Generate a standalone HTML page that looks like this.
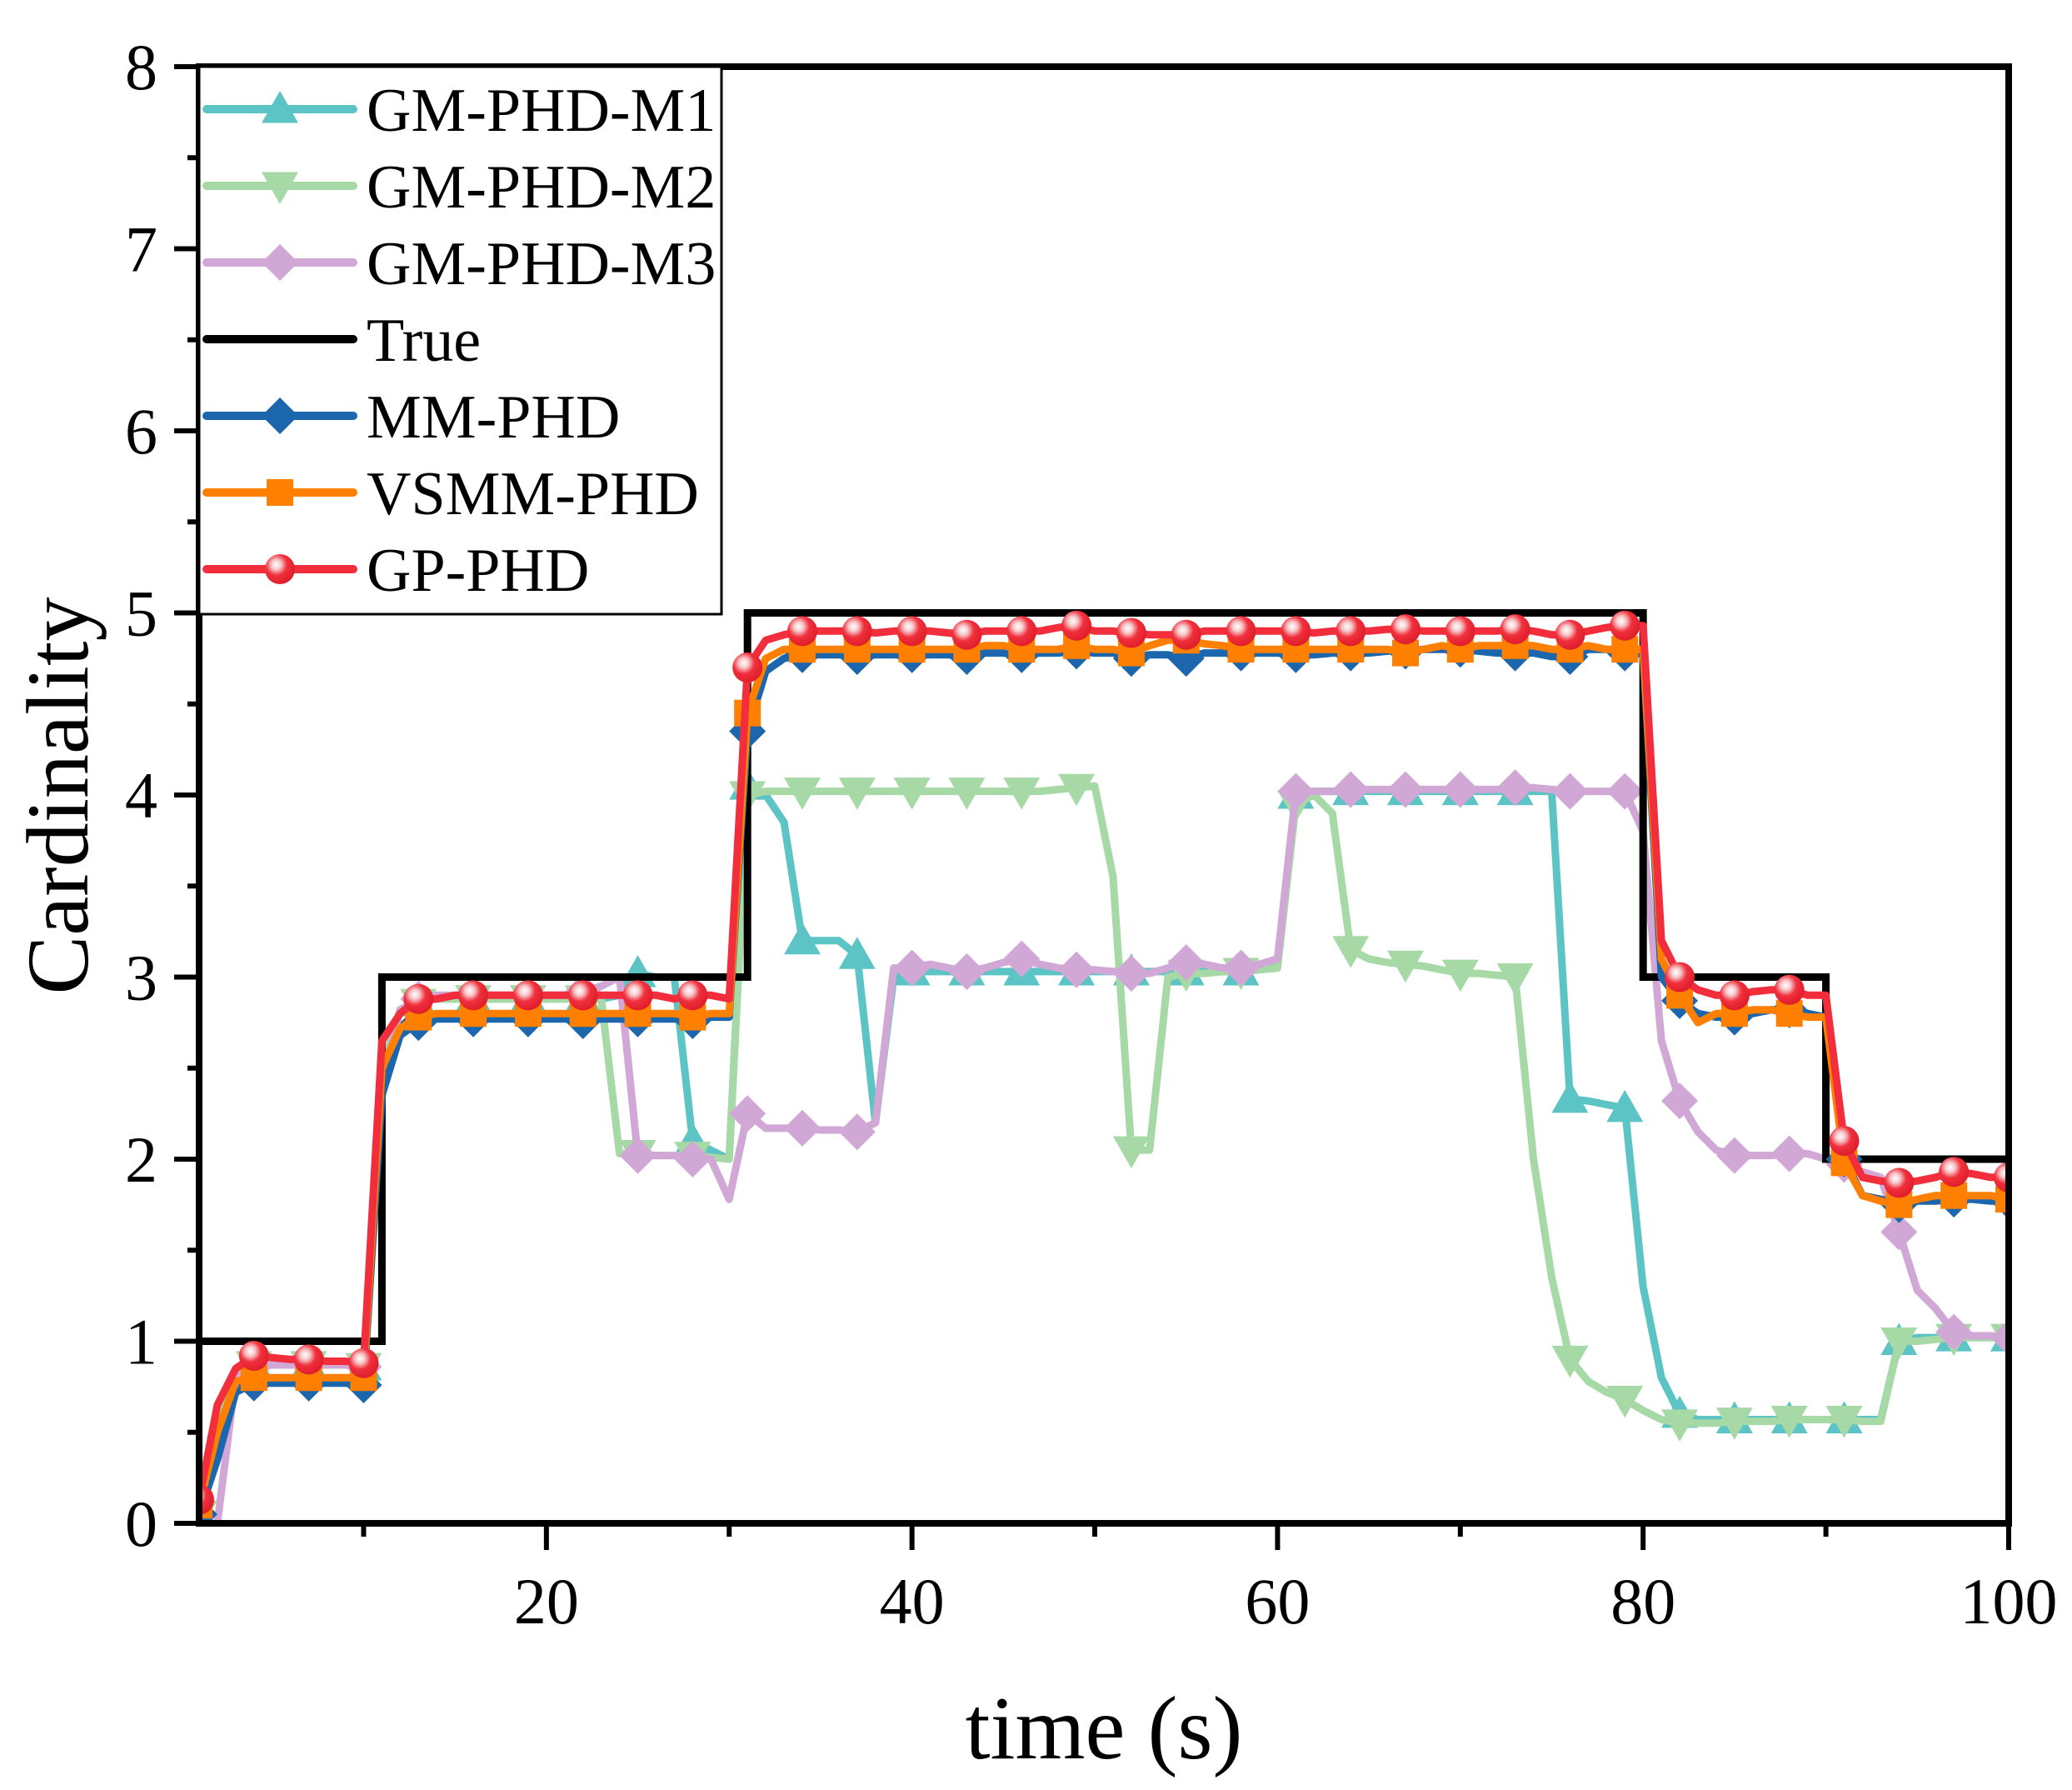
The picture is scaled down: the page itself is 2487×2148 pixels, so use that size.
<!DOCTYPE html>
<html><head><meta charset="utf-8"><style>
html,body{margin:0;padding:0;background:#fff;}
svg{display:block;font-family:"Liberation Serif",serif;}
</style></head><body>
<svg id="chart" width="2487" height="2148" viewBox="0 0 2487 2148" xmlns="http://www.w3.org/2000/svg">
<defs>
<radialGradient id="sph" cx="0.38" cy="0.35" r="0.65">
<stop offset="0" stop-color="#ffffff"/><stop offset="0.25" stop-color="#f7c6c9"/><stop offset="0.55" stop-color="#f0303c"/><stop offset="1" stop-color="#e01e2c"/>
</radialGradient>
<clipPath id="plotclip"><rect x="239" y="80" width="2172" height="1748"/></clipPath>
</defs>
<g id="series" clip-path="url(#plotclip)"></g>
<g id="axes"></g>
<g id="legend"></g>
</svg>
<script>
const times = Array.from({length:100},(_, i)=>i+1);
const yTicks = [0,1,2,3,4,5,6,7,8];
const xTicks = [20,40,60,80,100];
const xMinor = [10,30,50,70,90];
const seriesNames = ["GM-PHD-M1","GM-PHD-M2","GM-PHD-M3","True","MM-PHD","VSMM-PHD","GP-PHD"];
const trueVals = [1,1,1,1,1,1,1,1,1,1, 3,3,3,3,3,3,3,3,3,3, 3,3,3,3,3,3,3,3,3,3,
 5,5,5,5,5,5,5,5,5,5, 5,5,5,5,5,5,5,5,5,5, 5,5,5,5,5,5,5,5,5,5, 5,5,5,5,5,5,5,5,5,5,
 5,5,5,5,5,5,5,5,5,3, 3,3,3,3,3,3,3,3,3,2, 2,2,2,2,2,2,2,2,2,2];
const m1Vals = [0.05,0.6,0.85,0.87,0.87,0.87,0.87,0.87,0.87,0.86,
 2.5,2.82,2.86,2.88,2.88,2.88,2.88,2.88,2.88,2.88, 2.88,2.88,2.88,2.9,3.02,3.0,3.0,2.1,2.05,2.0,
 4.05,4.0,3.85,3.2,3.2,3.2,3.12,2.2,3.0,3.03, 3.03,3.03,3.03,3.03,3.03,3.03,3.03,3.03,3.03,3.03,
 3.03,3.03,3.03,3.03,3.03,3.03,3.03,3.03,3.05,3.08, 4.0,4.02,4.02,4.02,4.02,4.02,4.02,4.02,4.02,4.02,
 4.02,4.02,4.02,4.02,4.02,2.33,2.32,2.3,2.28,1.3, 0.8,0.6,0.57,0.57,0.57,0.57,0.57,0.57,0.57,0.57,
 0.57,0.57,0.57,1.0,1.02,1.02,1.02,1.02,1.02,1.02];
const m2Vals = [0.05,0.6,0.85,0.87,0.87,0.87,0.87,0.87,0.87,0.86,
 2.5,2.82,2.86,2.88,2.88,2.88,2.88,2.88,2.88,2.88, 2.88,2.88,2.88,2.03,2.03,2.02,2.02,2.02,2.01,2.0,
 4.0,4.02,4.02,4.02,4.02,4.02,4.02,4.02,4.02,4.02, 4.02,4.02,4.02,4.02,4.02,4.02,4.02,4.03,4.04,4.05,
 3.55,2.05,2.05,3.0,3.02,3.02,3.03,3.03,3.04,3.05, 3.95,4.0,3.9,3.15,3.1,3.08,3.07,3.06,3.04,3.02,
 3.02,3.01,3.0,2.0,1.35,0.9,0.78,0.72,0.68,0.62, 0.57,0.55,0.55,0.55,0.56,0.56,0.56,0.57,0.57,0.57,
 0.57,0.56,0.56,1.0,1.0,1.01,1.02,1.02,1.02,1.02];
const m3Vals = [0.0,0.0,0.8,0.86,0.87,0.87,0.87,0.87,0.87,0.86,
 2.4,2.82,2.88,2.9,2.9,2.9,2.9,2.9,2.9,2.9, 2.9,2.92,2.95,3.0,2.02,2.02,2.02,2.0,2.0,1.78,
 2.25,2.17,2.17,2.17,2.16,2.16,2.15,2.2,3.05,3.05, 3.07,3.05,3.03,3.05,3.08,3.1,3.07,3.05,3.04,3.04,
 3.03,3.02,3.02,3.05,3.08,3.07,3.05,3.05,3.07,3.1, 4.02,4.02,4.02,4.03,4.03,4.03,4.03,4.03,4.03,4.03,
 4.03,4.03,4.04,4.04,4.03,4.02,4.02,4.02,4.02,3.8, 2.65,2.32,2.15,2.05,2.02,2.02,2.02,2.03,2.03,2.0,
 1.97,1.93,1.9,1.6,1.28,1.18,1.05,1.03,1.03,1.02];
const mmVals = [0.05,0.35,0.72,0.77,0.77,0.77,0.77,0.77,0.77,0.76,
 2.35,2.68,2.75,2.77,2.77,2.77,2.77,2.77,2.77,2.77, 2.77,2.76,2.77,2.77,2.77,2.77,2.77,2.76,2.78,2.78,
 4.35,4.68,4.75,4.77,4.77,4.77,4.76,4.77,4.77,4.77, 4.77,4.77,4.76,4.78,4.78,4.77,4.78,4.78,4.79,4.78,
 4.78,4.75,4.77,4.77,4.75,4.78,4.78,4.78,4.78,4.78, 4.77,4.77,4.78,4.78,4.78,4.79,4.79,4.8,4.8,4.8,
 4.79,4.78,4.78,4.78,4.76,4.76,4.8,4.8,4.78,4.78, 3.0,2.87,2.8,2.78,2.78,2.8,2.82,2.82,2.8,2.78,
 2.0,1.8,1.78,1.75,1.77,1.77,1.78,1.78,1.77,1.77];
const vsVals = [0.1,0.5,0.78,0.8,0.8,0.8,0.8,0.8,0.8,0.8,
 2.5,2.72,2.78,2.8,2.8,2.8,2.8,2.8,2.8,2.8, 2.8,2.8,2.8,2.8,2.8,2.8,2.8,2.78,2.8,2.8,
 4.45,4.75,4.8,4.8,4.8,4.8,4.8,4.8,4.8,4.8, 4.8,4.8,4.8,4.82,4.82,4.8,4.8,4.8,4.82,4.8,
 4.8,4.78,4.82,4.85,4.85,4.83,4.82,4.8,4.8,4.8, 4.8,4.8,4.8,4.8,4.8,4.8,4.78,4.8,4.82,4.8,
 4.82,4.82,4.82,4.82,4.8,4.8,4.82,4.8,4.8,4.8, 3.1,2.9,2.75,2.8,2.8,2.82,2.82,2.8,2.78,2.78,
 1.98,1.8,1.77,1.75,1.78,1.8,1.8,1.8,1.8,1.78];
const gpVals = [0.13,0.65,0.85,0.92,0.91,0.9,0.9,0.89,0.89,0.88,
 2.65,2.8,2.88,2.88,2.9,2.9,2.9,2.9,2.9,2.9, 2.9,2.9,2.9,2.9,2.9,2.9,2.88,2.9,2.9,2.88,
 4.7,4.85,4.88,4.9,4.9,4.9,4.9,4.89,4.9,4.9, 4.9,4.89,4.88,4.9,4.9,4.9,4.9,4.92,4.93,4.9,
 4.9,4.89,4.88,4.88,4.88,4.9,4.9,4.9,4.9,4.9, 4.9,4.89,4.9,4.9,4.9,4.91,4.91,4.9,4.9,4.9,
 4.9,4.9,4.91,4.9,4.88,4.88,4.9,4.92,4.93,4.93, 3.2,3.0,2.93,2.9,2.9,2.92,2.93,2.93,2.9,2.9,
 2.1,1.9,1.88,1.87,1.88,1.9,1.93,1.92,1.9,1.9];

const PL=239, PR=2411, PT=80, PB=1828;
const X0=1, X1=100, Y0=0, Y1=8;
function xs(v){return PL+(v-X0)/(X1-X0)*(PR-PL);}
function ys(v){return PB-(v-Y0)/(Y1-Y0)*(PB-PT);}
const NS="http://www.w3.org/2000/svg";
function mk(tag, attrs, parent){const e=document.createElementNS(NS,tag);for(const k in attrs)e.setAttribute(k,attrs[k]);parent.appendChild(e);return e;}

const colors={m1:"#5cc4c4",m2:"#a6d9a6",m3:"#d1a7d6",mm:"#1c66ae",vs:"#ff8000",gp:"#f22e3c"};
const sg=document.getElementById('series');

function marker(type,x,y,color,parent){
  let e;
  const s=22;
  if(type==='tri') e=mk('polygon',{points:`${x},${y-s} ${x-s},${y+s*0.75} ${x+s},${y+s*0.75}`,fill:color},parent);
  else if(type==='itri') e=mk('polygon',{points:`${x},${y+s} ${x-s},${y-s*0.75} ${x+s},${y-s*0.75}`,fill:color},parent);
  else if(type==='dia') e=mk('polygon',{points:`${x},${y-s} ${x+s},${y} ${x},${y+s} ${x-s},${y}`,fill:color},parent);
  else if(type==='sq') e=mk('rect',{x:x-16,y:y-16,width:32,height:32,fill:color},parent);
  else if(type==='circ') e=mk('circle',{cx:x,cy:y,r:18,fill:'url(#sph)'},parent);
  return e;
}
function drawSeries(key,vals,type,name){
  const g=mk('g',{},sg);
  
  
  const pts=vals.map((v,i)=>xs(times[i]).toFixed(1)+','+ys(v).toFixed(1)).join(' ');
  const pl=mk('polyline',{points:pts,fill:'none',stroke:colors[key],'stroke-width':9,'stroke-linejoin':'round','stroke-linecap':'round'},g);
  
  
  vals.forEach((v,i)=>{ if(i%3===0){ const m=marker(type,xs(times[i]),ys(v),colors[key],g);
    
     }});
}
drawSeries('m1',m1Vals,'tri','gm-phd-m1');
drawSeries('m2',m2Vals,'itri','gm-phd-m2');
drawSeries('m3',m3Vals,'dia','gm-phd-m3');
(function(){
  let pts=[];
  for(let i=0;i<trueVals.length;i++){
    const t=times[i], v=trueVals[i];
    pts.push(xs(t).toFixed(1)+','+ys(v).toFixed(1));
    pts.push(xs(Math.min(t+1,X1)).toFixed(1)+','+ys(v).toFixed(1));
  }
  const p=mk('polyline',{points:pts.join(' '),fill:'none',stroke:'#000','stroke-width':9},sg);
  
  
})();
drawSeries('mm',mmVals,'dia','mm-phd');
drawSeries('vs',vsVals,'sq','vsmm-phd');
drawSeries('gp',gpVals,'circ','gp-phd');

const ax=document.getElementById('axes');
const frame=mk('rect',{x:PL,y:PT,width:PR-PL,height:PB-PT,fill:'none',stroke:'#000','stroke-width':8},ax);


yTicks.forEach(v=>{
  const t=mk('line',{x1:PL-30,x2:PL,y1:ys(v),y2:ys(v),stroke:'#000','stroke-width':6},ax);
  
  
  const l=mk('text',{x:PL-50,y:ys(v)+27,'text-anchor':'end','font-size':78},ax);
  l.textContent=v;
  
  
  if(v<8){const m=mk('line',{x1:PL-14,x2:PL,y1:ys(v+0.5),y2:ys(v+0.5),stroke:'#000','stroke-width':6},ax);
  
  }
});
xTicks.forEach(v=>{
  const t=mk('line',{x1:xs(v),x2:xs(v),y1:PB,y2:PB+32,stroke:'#000','stroke-width':6},ax);
  
  
  const l=mk('text',{x:xs(v),y:PB+120,'text-anchor':'middle','font-size':78},ax);
  l.textContent=v;
  
  
});
xMinor.forEach(v=>{
  const m=mk('line',{x1:xs(v),x2:xs(v),y1:PB,y2:PB+16,stroke:'#000','stroke-width':6},ax);
  
  
});
const xt=mk('text',{x:1325,y:2110,'text-anchor':'middle','font-size':108},ax);
xt.textContent='time (s)';


const yt=mk('text',{x:0,y:0,'text-anchor':'middle','font-size':106,transform:'translate(105,955) rotate(-90)'},ax);
yt.textContent='Cardinality';



const lg=document.getElementById('legend');
const box=mk('rect',{x:PL,y:PT,width:627,height:657,fill:'#fff',stroke:'#000','stroke-width':3},lg);


const legendKeys=[['m1','tri'],['m2','itri'],['m3','dia'],['true',null],['mm','dia'],['vs','sq'],['gp','circ']];
legendKeys.forEach((k,i)=>{
  const y=131+i*92;
  const g=mk('g',{},lg);
  
  
  const c=k[0]==='true'?'#000':colors[k[0]];
  mk('line',{x1:248,x2:424,y1:y,y2:y,stroke:c,'stroke-width':10,'stroke-linecap':'round'},g);
  if(k[1]) marker(k[1],336,y,c,g);
  const t=mk('text',{x:440,y:y+26,'font-size':74},g);
  t.textContent=seriesNames[i];
  
  
});
</script>
</body></html>
